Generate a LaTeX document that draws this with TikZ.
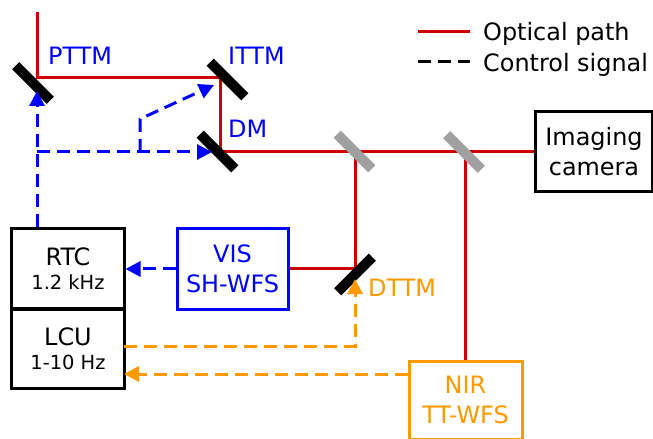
\documentclass[tikz,border=0pt]{standalone}
\usepackage{fontspec}
\setmainfont{DejaVu Sans}
\usepackage{xcolor}
\usetikzlibrary{positioning,arrows.meta}
\definecolor{beamred}{RGB}{204,0,0}
\definecolor{ctrlblue}{RGB}{0,0,255}
\definecolor{ctrlorange}{RGB}{255,153,0}
\definecolor{splitgray}{RGB}{160,160,160}

\begin{document}
\begin{tikzpicture}[x=1bp,y=-1bp,
    box/.style={draw,line width=3bp,minimum width=112bp,minimum height=80bp,inner sep=0pt,align=center,font=\fontsize{24}{30}\selectfont},
    mirror/.style={fill=black,minimum width=49bp,minimum height=10bp,inner sep=0pt},
    splitter/.style={mirror,fill=splitgray},
    beam/.style={beamred,line width=3bp},
    ctrl/.style={line width=3bp,dash pattern=on 13bp off 7bp,-{Triangle[length=15bp,width=15bp]}},
    lbl/.style={anchor=base west,inner sep=0pt,font=\fontsize{24}{30}\selectfont}]
    \useasboundingbox (0,0) rectangle (653,439);
    % boxes
    \node[box] (rtc) at (68,269) {RTC\\[-6bp]{\fontsize{19.5}{24}\selectfont 1.2 kHz}};
    \node[box,minimum height=79bp] (lcu) at (68,348.5) {LCU\\[-6bp]{\fontsize{19.5}{24}\selectfont 1-10 Hz}};
    \node[box,draw=ctrlblue,text=ctrlblue,minimum width=111bp] (vis) at (232.5,269) {VIS\\SH-WFS};
    \node[box,minimum width=117bp] (cam) at (594,152) {Imaging\\camera};
    \node[box,draw=ctrlorange,text=ctrlorange,minimum width=113bp,minimum height=78bp] (nir) at (465.5,400) {NIR\\TT-WFS};
    % beam corners
    \coordinate (top) at (37,12);
    \coordinate (pttmc) at (37,78);
    \coordinate (ittmc) at (220,78);
    \coordinate (dmc) at (220,152);
    \coordinate (bs1c) at (355,152);
    \coordinate (bs2c) at (465,152);
    \coordinate (dttmc) at (355,269);
    \draw[beam] (top) -- (pttmc) -- (ittmc) -- (dmc) -- (cam.west);
    \draw[beam] (bs1c) -- (dttmc) -- (vis.east);
    \draw[beam] (bs2c) -- (bs2c |- nir.north);
    % mirrors
    \node[mirror,rotate=-45] (pttm) at (33,83) {};
    \node[mirror,rotate=-45] (ittm) at (227.5,79.5) {};
    \node[mirror,rotate=-45] (dm) at (217.5,151.5) {};
    \node[mirror,rotate=45] (dttm) at (355,274.5) {};
    \node[splitter,rotate=-45] (bs1) at (354.5,151.5) {};
    \node[splitter,rotate=-45] (bs2) at (464,152) {};
    \node[lbl,text=ctrlblue] (pttml) at (48,65) {PTTM};
    \node[lbl,text=ctrlblue] (ittml) at (228,65) {ITTM};
    \node[lbl,text=ctrlblue] (dml) at (228,138) {DM};
    \node[lbl,text=ctrlorange] (dttml) at (368,297) {DTTM};
    % control signals
    \coordinate (split) at (37,152);
    \coordinate (fork) at (140,152);
    \coordinate (bend) at (140,119);
    \coordinate (pttmhit) at (37,91);
    \coordinate (ittmhit) at (214,85);
    \coordinate (dmhit) at (212,152);
    \coordinate (dttmhit) at (355,279);
    \coordinate (lcuout) at (124,346);
    \coordinate (lcuin) at (124,374);
    \draw[ctrl,ctrlblue] (pttmhit |- rtc.north) -- (pttmhit);
    \draw[ctrl,ctrlblue] (split) -- (dmhit);
    \draw[ctrl,ctrlblue] (fork) -- (bend) -- (ittmhit);
    \draw[ctrl,ctrlblue] (vis.west) -- (rtc.east);
    \draw[ctrl,ctrlorange] (lcuout) -| (dttmhit);
    \draw[ctrl,ctrlorange] (nir.west |- lcuin) -- (lcuin);
    % legend
    \coordinate (optA) at (418,32);
    \coordinate (optB) at (470,32);
    \coordinate (ctlA) at (418,62);
    \coordinate (ctlB) at (470,62);
    \draw[beam] (optA) -- (optB);
    \draw[line width=3bp,dash pattern=on 13bp off 7bp] (ctlA) -- (ctlB);
    \node[lbl] (optl) at (483,41) {Optical path};
    \node[lbl] (ctll) at (483,72) {Control signal};
\end{tikzpicture}
\end{document}
